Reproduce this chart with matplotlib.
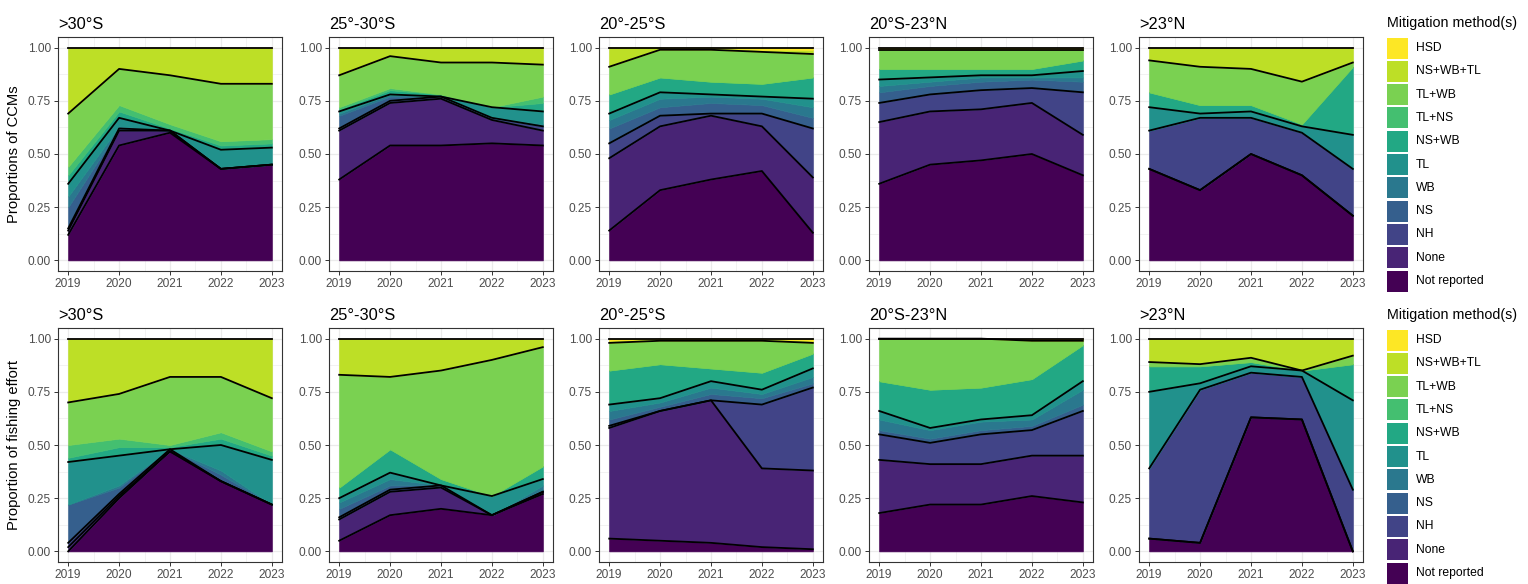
import numpy as np
import matplotlib.pyplot as plt
from matplotlib.patches import Rectangle
from matplotlib.ticker import MultipleLocator, FixedLocator

plt.rcParams['font.family'] = ['Liberation Sans', 'DejaVu Sans']

years = [2019, 2020, 2021, 2022, 2023]
methods = ["Not reported", "None", "NH", "NS", "WB", "TL",
           "NS+WB", "TL+NS", "TL+WB", "NS+WB+TL", "HSD"]
regions = [">30°S", "25°-30°S", "20°-25°S", "20°S-23°N", ">23°N"]

# proportion of CCMs, one row per method (bottom to top), one column per year
ccm_gt30s = [
    [.12, .54, .60, .43, .45],
    [.02, .07, .01, 0, 0],
    [.01, .01, 0, 0, 0],
    [.10, 0, 0, 0, 0],
    [.05, .01, 0, .01, 0],
    [.06, .04, 0, .08, .08],
    [.04, .03, .01, .02, .02],
    [.04, .03, .02, .02, .02],
    [.25, .17, .23, .27, .26],
    [.31, .10, .13, .17, .17],
    [0, 0, 0, 0, 0],
]
ccm_25_30s = [
    [.38, .54, .54, .55, .54],
    [.23, .20, .22, .11, .07],
    [.01, .01, .01, .01, .02],
    [.06, .02, 0, 0, 0],
    [.01, .01, 0, 0, .01],
    [.01, 0, 0, .05, .06],
    [.01, .02, .01, 0, .04],
    [.01, .01, 0, 0, .03],
    [.15, .15, .15, .21, .15],
    [.13, .04, .07, .07, .08],
    [0, 0, 0, 0, 0],
]
ccm_20_25s = [
    [.14, .33, .38, .42, .13],
    [.34, .30, .30, .21, .26],
    [.07, .05, .01, .06, .23],
    [.07, .04, .05, .04, .05],
    [.04, .04, .03, .03, .05],
    [.03, .03, .01, .01, .04],
    [.09, .07, .06, .06, .10],
    [0, 0, 0, 0, 0],
    [.13, .13, .15, .15, .11],
    [.09, .01, .01, .01, .02],
    [0, 0, 0, .01, .01],
]
ccm_20s_23n = [
    [.36, .45, .47, .50, .40],
    [.29, .25, .24, .24, .19],
    [.09, .08, .09, .07, .20],
    [.05, .04, .04, .04, .05],
    [.03, .02, .02, .01, .02],
    [.03, .02, .01, .01, .03],
    [.05, .04, .03, .03, .05],
    [0, 0, 0, 0, 0],
    [.09, .09, .09, .09, .05],
    [.005, .005, .01, .005, .005],
    [.005, .005, 0, .005, .005],
]
ccm_gt23n = [
    [.43, .33, .50, .40, .21],
    [0, 0, 0, 0, 0],
    [.18, .34, .17, .20, .22],
    [0, 0, 0, 0, 0],
    [0, 0, 0, 0, 0],
    [.11, .02, .03, .03, .16],
    [.07, .04, .03, .01, .32],
    [0, 0, 0, 0, 0],
    [.15, .18, .17, .20, .02],
    [.06, .09, .10, .16, .07],
    [0, 0, 0, 0, 0],
]

# proportion of fishing effort
eff_gt30s = [
    [0, .25, .47, .33, .22],
    [.02, .01, 0, 0, 0],
    [.02, .01, .01, 0, 0],
    [.18, .03, 0, .03, 0],
    [0, .01, 0, .02, 0],
    [.20, .14, 0, .12, .21],
    [.02, .04, .01, .03, .02],
    [.06, .04, .01, .03, .02],
    [.20, .21, .32, .26, .25],
    [.30, .26, .18, .18, .28],
    [0, 0, 0, 0, 0],
]
eff_25_30s = [
    [.05, .17, .20, .17, .27],
    [.10, .11, .10, 0, .01],
    [.01, .01, .01, 0, 0],
    [.04, .02, 0, 0, .01],
    [.03, .03, 0, 0, .02],
    [.02, .03, 0, .09, .03],
    [.05, .11, .03, 0, .06],
    [0, 0, 0, 0, 0],
    [.53, .34, .51, .64, .56],
    [.17, .18, .15, .10, .04],
    [0, 0, 0, 0, 0],
]
eff_20_25s = [
    [.06, .05, .04, .02, .01],
    [.52, .61, .67, .37, .37],
    [.01, 0, 0, .30, .39],
    [.03, .02, .03, .03, .02],
    [.04, .02, .03, .02, .03],
    [.03, .02, .03, .02, .04],
    [.16, .16, .06, .08, .07],
    [0, 0, 0, 0, 0],
    [.13, .11, .13, .15, .05],
    [.01, .01, .01, .01, .01],
    [.01, 0, 0, 0, .01],
]
eff_20s_23n = [
    [.18, .22, .22, .26, .23],
    [.25, .19, .19, .19, .22],
    [.12, .10, .14, .12, .21],
    [.02, .02, .02, .02, .03],
    [.05, .04, .04, .03, .07],
    [.04, .01, .01, .02, .04],
    [.14, .18, .15, .17, .17],
    [0, 0, 0, 0, 0],
    [.20, .24, .23, .18, .02],
    [0, 0, 0, .005, .005],
    [0, 0, 0, .005, .005],
]
eff_gt23n = [
    [.06, .04, .63, .62, 0],
    [0, 0, 0, 0, 0],
    [.33, .72, .21, .20, .29],
    [0, 0, 0, 0, 0],
    [0, 0, 0, 0, 0],
    [.36, .03, .03, .03, .42],
    [.12, .08, .02, 0, .17],
    [0, 0, 0, 0, 0],
    [.02, .01, .02, 0, .04],
    [.11, .12, .09, .15, .08],
    [0, 0, 0, 0, 0],
]

rows = [
    ([ccm_gt30s, ccm_25_30s, ccm_20_25s, ccm_20s_23n, ccm_gt23n], "Proportions of CCMs"),
    ([eff_gt30s, eff_25_30s, eff_20_25s, eff_20s_23n, eff_gt23n], "Proportion of fishing effort"),
]

colors = plt.cm.viridis(np.linspace(0, 1, len(methods)))
outlined = ["Not reported", "None", "NH", "TL", "TL+WB", "HSD"]

W, H = 1528, 584
fig = plt.figure(figsize=(W / 100, H / 100), dpi=100)

lefts = [58, 329, 599, 869, 1139]
tops = [37, 328]
pw, ph = 224, 234


def draw_panel(ax, values, title):
    vals = np.array(values, dtype=float)
    cum = np.cumsum(vals, axis=0)
    base = np.zeros(len(years))
    for i, c in enumerate(colors):
        ax.fill_between(years, base, cum[i], color=c, lw=0.5, edgecolor=c, zorder=2)
        base = cum[i]
    for m in outlined:
        ax.plot(years, cum[methods.index(m)], color="black", lw=1.3, zorder=3)
    ax.set_xlim(2018.8, 2023.2)
    ax.set_ylim(-0.05, 1.05)
    ax.set_xticks(years)
    ax.set_yticks([0, 0.25, 0.5, 0.75, 1.0])
    ax.set_yticklabels(["0.00", "0.25", "0.50", "0.75", "1.00"])
    ax.xaxis.set_minor_locator(FixedLocator([2019.5, 2020.5, 2021.5, 2022.5]))
    ax.yaxis.set_minor_locator(FixedLocator([0.125, 0.375, 0.625, 0.875]))
    ax.grid(which="major", color="#ebebeb", lw=0.9, zorder=0)
    ax.grid(which="minor", color="#ebebeb", lw=0.45, zorder=0)
    ax.set_axisbelow(True)
    ax.tick_params(which="major", length=3, width=0.7, color="#333333",
                   labelsize=8.6, labelcolor="#4d4d4d", pad=2)
    ax.tick_params(which="minor", length=0)
    for s in ax.spines.values():
        s.set_color("#333333")
        s.set_linewidth(0.8)
    ax.set_title(title, loc="left", fontsize=11.8, pad=6)


for r, (panels, ylab) in enumerate(rows):
    for k, (values, title) in enumerate(zip(panels, regions)):
        ax = fig.add_axes([lefts[k] / W, (H - tops[r] - ph) / H, pw / W, ph / H])
        draw_panel(ax, values, title)
        if k == 0:
            ax.set_ylabel(ylab, fontsize=10.6, labelpad=5)

# legends, drawn in pixel space
lax = fig.add_axes([0, 0, 1, 1])
lax.set_xlim(0, W)
lax.set_ylim(H, 0)
lax.axis("off")
for r in range(2):
    y0 = 292 * r
    lax.text(1387, y0 + 23, "Mitigation method(s)", fontsize=10.3, va="center", ha="left")
    for j, m in enumerate(reversed(methods)):
        yc = y0 + 48 + j * 23.3
        c = colors[len(methods) - 1 - j]
        lax.add_patch(Rectangle((1387, yc - 10.5), 21, 21, color=c, lw=0))
        lax.text(1416, yc, m, fontsize=8.7, va="center", ha="left")

fig.savefig("out.png", dpi=100)
